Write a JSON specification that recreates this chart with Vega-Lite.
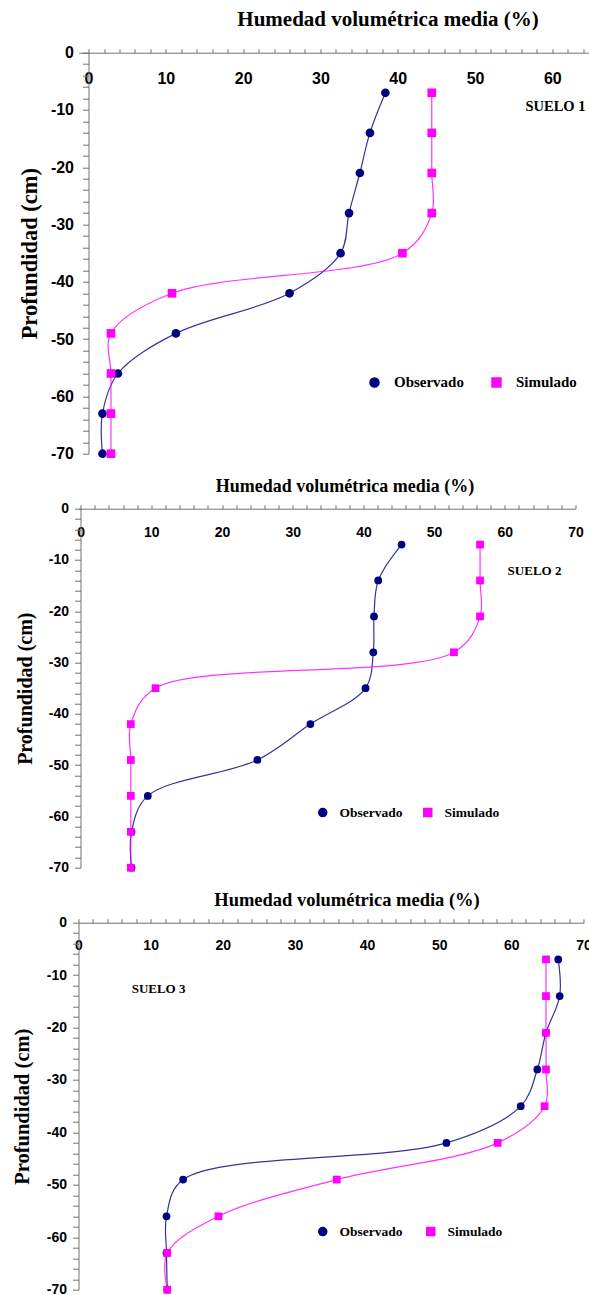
{
  "$schema": "https://vega.github.io/schema/vega-lite/v6.json",
  "background": "white",
  "padding": {"left": 12.5, "top": 8.7, "right": 0, "bottom": 0},
  "config": {
    "view": {"stroke": null},
    "axis": {"grid": false, "ticks": true, "domainColor": "#707070", "tickColor": "#707070", "tickWidth": 1, "labelColor": "black", "titleColor": "black"}
  },
  "datasets": {
    "suelo1": [
      {"serie": "Observado", "prof": -7, "humedad": 38.4},
      {"serie": "Observado", "prof": -14, "humedad": 36.4},
      {"serie": "Observado", "prof": -21, "humedad": 35.1},
      {"serie": "Observado", "prof": -28, "humedad": 33.7},
      {"serie": "Observado", "prof": -35, "humedad": 32.6},
      {"serie": "Observado", "prof": -42, "humedad": 26.0},
      {"serie": "Observado", "prof": -49, "humedad": 11.3},
      {"serie": "Observado", "prof": -56, "humedad": 3.8},
      {"serie": "Observado", "prof": -63, "humedad": 1.8},
      {"serie": "Observado", "prof": -70, "humedad": 1.8},
      {"serie": "Simulado", "prof": -7, "humedad": 44.4},
      {"serie": "Simulado", "prof": -14, "humedad": 44.4},
      {"serie": "Simulado", "prof": -21, "humedad": 44.4},
      {"serie": "Simulado", "prof": -28, "humedad": 44.4},
      {"serie": "Simulado", "prof": -35, "humedad": 40.6},
      {"serie": "Simulado", "prof": -42, "humedad": 10.8},
      {"serie": "Simulado", "prof": -49, "humedad": 2.9},
      {"serie": "Simulado", "prof": -56, "humedad": 2.9},
      {"serie": "Simulado", "prof": -63, "humedad": 2.9},
      {"serie": "Simulado", "prof": -70, "humedad": 2.9}
    ],
    "suelo2": [
      {"serie": "Observado", "prof": -7, "humedad": 45.4},
      {"serie": "Observado", "prof": -14, "humedad": 42.1},
      {"serie": "Observado", "prof": -21, "humedad": 41.5},
      {"serie": "Observado", "prof": -28, "humedad": 41.4},
      {"serie": "Observado", "prof": -35, "humedad": 40.3},
      {"serie": "Observado", "prof": -42, "humedad": 32.5},
      {"serie": "Observado", "prof": -49, "humedad": 25.0},
      {"serie": "Observado", "prof": -56, "humedad": 9.5},
      {"serie": "Observado", "prof": -63, "humedad": 7.2},
      {"serie": "Observado", "prof": -70, "humedad": 7.2},
      {"serie": "Simulado", "prof": -7, "humedad": 56.5},
      {"serie": "Simulado", "prof": -14, "humedad": 56.5},
      {"serie": "Simulado", "prof": -21, "humedad": 56.5},
      {"serie": "Simulado", "prof": -28, "humedad": 52.8},
      {"serie": "Simulado", "prof": -35, "humedad": 10.6},
      {"serie": "Simulado", "prof": -42, "humedad": 7.1},
      {"serie": "Simulado", "prof": -49, "humedad": 7.1},
      {"serie": "Simulado", "prof": -56, "humedad": 7.1},
      {"serie": "Simulado", "prof": -63, "humedad": 7.1},
      {"serie": "Simulado", "prof": -70, "humedad": 7.1}
    ],
    "suelo3": [
      {"serie": "Observado", "prof": -7, "humedad": 66.5},
      {"serie": "Observado", "prof": -14, "humedad": 66.7},
      {"serie": "Observado", "prof": -21, "humedad": 64.8},
      {"serie": "Observado", "prof": -28, "humedad": 63.6},
      {"serie": "Observado", "prof": -35, "humedad": 61.3},
      {"serie": "Observado", "prof": -42, "humedad": 51.0},
      {"serie": "Observado", "prof": -49, "humedad": 14.5},
      {"serie": "Observado", "prof": -56, "humedad": 12.2},
      {"serie": "Observado", "prof": -63, "humedad": 12.2},
      {"serie": "Observado", "prof": -70, "humedad": 12.3},
      {"serie": "Simulado", "prof": -7, "humedad": 64.8},
      {"serie": "Simulado", "prof": -14, "humedad": 64.8},
      {"serie": "Simulado", "prof": -21, "humedad": 64.8},
      {"serie": "Simulado", "prof": -28, "humedad": 64.8},
      {"serie": "Simulado", "prof": -35, "humedad": 64.6},
      {"serie": "Simulado", "prof": -42, "humedad": 58.1},
      {"serie": "Simulado", "prof": -49, "humedad": 35.8},
      {"serie": "Simulado", "prof": -56, "humedad": 19.4},
      {"serie": "Simulado", "prof": -63, "humedad": 12.3},
      {"serie": "Simulado", "prof": -70, "humedad": 12.3}
    ]
  },
  "resolve": {
    "scale": {"color": "independent", "shape": "independent"},
    "legend": {"color": "independent", "shape": "independent"}
  },
  "vconcat": [
    {
      "width": 512.5,
      "height": 401,
      "data": {"name": "suelo1"},
      "layer": [
        {
          "mark": {"type": "line", "interpolate": "catmull-rom", "strokeWidth": 1.2, "strokeOpacity": 0.8},
          "encoding": {
            "x": {"field": "humedad", "type": "quantitative", "scale": {"domain": [-1.3, 65], "nice": false, "zero": false},
              "axis": {"orient": "top", "values": [0, 2, 4, 6, 8, 10, 12, 14, 16, 18, 20, 22, 24, 26, 28, 30, 32, 34, 36, 38, 40, 42, 44, 46, 48, 50, 52, 54, 56, 58, 60, 62, 64], "labelExpr": "datum.value % 10 === 0 ? datum.label : ''", "title": "Humedad volumétrica media (%)", "titleFont": "Liberation Serif", "titleFontWeight": "bold", "titleFontSize": 21, "titleX": 309, "titleY": -27, "titleBaseline": "alphabetic", "titleAlign": "center", "labelFont": "Liberation Sans", "labelFontWeight": "bold", "labelFontSize": 16, "labelBaseline": "middle", "labelPadding": -30, "labelFlush": false, "labelOverlap": false, "tickSize": 4}},
            "y": {"field": "prof", "type": "quantitative", "scale": {"domain": [-70, 0], "nice": false},
              "axis": {"orient": "left", "offset": -10, "values": [0, -2, -4, -6, -8, -10, -12, -14, -16, -18, -20, -22, -24, -26, -28, -30, -32, -34, -36, -38, -40, -42, -44, -46, -48, -50, -52, -54, -56, -58, -60, -62, -64, -66, -68, -70], "labelExpr": "datum.value % 10 === 0 ? toString(datum.value) : ''", "title": "Profundidad (cm)", "titleFont": "Liberation Serif", "titleFontWeight": "bold", "titleFontSize": 22.5, "titleX": -59, "titleBaseline": "middle", "labelFont": "Liberation Sans", "labelFontWeight": "bold", "labelFontSize": 16, "labelPadding": 9, "labelOverlap": false, "labelFlush": false, "tickSize": 6}},
            "color": {"field": "serie", "type": "nominal", "scale": {"domain": ["Observado", "Simulado"], "range": ["#000080", "#FF00FF"]}},
            "order": {"field": "prof", "sort": "descending"}
          }
        },
        {
          "mark": {"type": "point", "filled": true, "opacity": 1, "size": 75},
          "encoding": {
            "x": {"field": "humedad", "type": "quantitative", "scale": {"domain": [-1.3, 65], "nice": false, "zero": false},
              "axis": {"orient": "top", "values": [0, 2, 4, 6, 8, 10, 12, 14, 16, 18, 20, 22, 24, 26, 28, 30, 32, 34, 36, 38, 40, 42, 44, 46, 48, 50, 52, 54, 56, 58, 60, 62, 64], "labelExpr": "datum.value % 10 === 0 ? datum.label : ''", "title": "Humedad volumétrica media (%)", "titleFont": "Liberation Serif", "titleFontWeight": "bold", "titleFontSize": 21, "titleX": 309, "titleY": -27, "titleBaseline": "alphabetic", "titleAlign": "center", "labelFont": "Liberation Sans", "labelFontWeight": "bold", "labelFontSize": 16, "labelBaseline": "middle", "labelPadding": -30, "labelFlush": false, "labelOverlap": false, "tickSize": 4}},
            "y": {"field": "prof", "type": "quantitative", "scale": {"domain": [-70, 0], "nice": false},
              "axis": {"orient": "left", "offset": -10, "values": [0, -2, -4, -6, -8, -10, -12, -14, -16, -18, -20, -22, -24, -26, -28, -30, -32, -34, -36, -38, -40, -42, -44, -46, -48, -50, -52, -54, -56, -58, -60, -62, -64, -66, -68, -70], "labelExpr": "datum.value % 10 === 0 ? toString(datum.value) : ''", "title": "Profundidad (cm)", "titleFont": "Liberation Serif", "titleFontWeight": "bold", "titleFontSize": 22.5, "titleX": -59, "titleBaseline": "middle", "labelFont": "Liberation Sans", "labelFontWeight": "bold", "labelFontSize": 16, "labelPadding": 9, "labelOverlap": false, "labelFlush": false, "tickSize": 6}},
            "color": {
              "field": "serie", "type": "nominal",
              "scale": {"domain": ["Observado", "Simulado"], "range": ["#000080", "#FF00FF"]},
              "legend": {"orient": "none", "legendX": 288.5, "legendY": 322, "direction": "horizontal", "title": null, "padding": 0, "symbolSize": 80, "labelOffset": 12, "columnPadding": 24, "labelFont": "Liberation Serif", "labelFontWeight": "bold", "labelFontSize": 15, "labelColor": "black"}
            },
            "shape": {"field": "serie", "type": "nominal", "scale": {"domain": ["Observado", "Simulado"], "range": ["circle", "square"]}, "legend": null}
          }
        },
        {
          "data": {"values": [{"suelo": "SUELO 1"}]},
          "mark": {"type": "text", "font": "Liberation Serif", "fontWeight": "bold", "fontSize": 14.5, "color": "black", "align": "center", "baseline": "middle"},
          "encoding": {
            "x": {"datum": 60.4, "type": "quantitative", "scale": {"domain": [-1.3, 65], "nice": false, "zero": false},
              "axis": {"orient": "top", "values": [0, 2, 4, 6, 8, 10, 12, 14, 16, 18, 20, 22, 24, 26, 28, 30, 32, 34, 36, 38, 40, 42, 44, 46, 48, 50, 52, 54, 56, 58, 60, 62, 64], "labelExpr": "datum.value % 10 === 0 ? datum.label : ''", "title": "Humedad volumétrica media (%)", "titleFont": "Liberation Serif", "titleFontWeight": "bold", "titleFontSize": 21, "titleX": 309, "titleY": -27, "titleBaseline": "alphabetic", "titleAlign": "center", "labelFont": "Liberation Sans", "labelFontWeight": "bold", "labelFontSize": 16, "labelBaseline": "middle", "labelPadding": -30, "labelFlush": false, "labelOverlap": false, "tickSize": 4}},
            "y": {"datum": -9.5, "type": "quantitative", "scale": {"domain": [-70, 0], "nice": false},
              "axis": {"orient": "left", "offset": -10, "values": [0, -2, -4, -6, -8, -10, -12, -14, -16, -18, -20, -22, -24, -26, -28, -30, -32, -34, -36, -38, -40, -42, -44, -46, -48, -50, -52, -54, -56, -58, -60, -62, -64, -66, -68, -70], "labelExpr": "datum.value % 10 === 0 ? toString(datum.value) : ''", "title": "Profundidad (cm)", "titleFont": "Liberation Serif", "titleFontWeight": "bold", "titleFontSize": 22.5, "titleX": -59, "titleBaseline": "middle", "labelFont": "Liberation Sans", "labelFontWeight": "bold", "labelFontSize": 16, "labelPadding": 9, "labelOverlap": false, "labelFlush": false, "tickSize": 6}},
            "text": {"field": "suelo"}
          }
        }
      ]
    },
    {
      "width": 497,
      "height": 359,
      "data": {"name": "suelo2"},
      "layer": [
        {
          "mark": {"type": "line", "interpolate": "catmull-rom", "strokeWidth": 1.2, "strokeOpacity": 0.8},
          "encoding": {
            "x": {"field": "humedad", "type": "quantitative", "scale": {"domain": [-0.3, 70], "nice": false, "zero": false},
              "axis": {"orient": "top", "values": [0, 2, 4, 6, 8, 10, 12, 14, 16, 18, 20, 22, 24, 26, 28, 30, 32, 34, 36, 38, 40, 42, 44, 46, 48, 50, 52, 54, 56, 58, 60, 62, 64, 66, 68, 70], "labelExpr": "datum.value % 10 === 0 ? datum.label : ''", "title": "Humedad volumétrica media (%)", "titleFont": "Liberation Serif", "titleFontWeight": "bold", "titleFontSize": 18, "titleX": 266, "titleY": -17, "titleBaseline": "alphabetic", "titleAlign": "center", "labelFont": "Liberation Sans", "labelFontWeight": "bold", "labelFontSize": 14, "labelBaseline": "middle", "labelPadding": -28, "labelFlush": false, "labelOverlap": false, "tickSize": 4}},
            "y": {"field": "prof", "type": "quantitative", "scale": {"domain": [-70, 0], "nice": false},
              "axis": {"orient": "left", "offset": -2, "values": [0, -2, -4, -6, -8, -10, -12, -14, -16, -18, -20, -22, -24, -26, -28, -30, -32, -34, -36, -38, -40, -42, -44, -46, -48, -50, -52, -54, -56, -58, -60, -62, -64, -66, -68, -70], "labelExpr": "datum.value % 10 === 0 ? toString(datum.value) : ''", "title": "Profundidad (cm)", "titleFont": "Liberation Serif", "titleFontWeight": "bold", "titleFontSize": 20, "titleX": -55, "titleBaseline": "middle", "labelFont": "Liberation Sans", "labelFontWeight": "bold", "labelFontSize": 14, "labelPadding": 6, "labelOverlap": false, "labelFlush": false, "tickSize": 6}},
            "color": {"field": "serie", "type": "nominal", "scale": {"domain": ["Observado", "Simulado"], "range": ["#000080", "#FF00FF"]}},
            "order": {"field": "prof", "sort": "descending"}
          }
        },
        {
          "mark": {"type": "point", "filled": true, "opacity": 1, "size": 60},
          "encoding": {
            "x": {"field": "humedad", "type": "quantitative", "scale": {"domain": [-0.3, 70], "nice": false, "zero": false},
              "axis": {"orient": "top", "values": [0, 2, 4, 6, 8, 10, 12, 14, 16, 18, 20, 22, 24, 26, 28, 30, 32, 34, 36, 38, 40, 42, 44, 46, 48, 50, 52, 54, 56, 58, 60, 62, 64, 66, 68, 70], "labelExpr": "datum.value % 10 === 0 ? datum.label : ''", "title": "Humedad volumétrica media (%)", "titleFont": "Liberation Serif", "titleFontWeight": "bold", "titleFontSize": 18, "titleX": 266, "titleY": -17, "titleBaseline": "alphabetic", "titleAlign": "center", "labelFont": "Liberation Sans", "labelFontWeight": "bold", "labelFontSize": 14, "labelBaseline": "middle", "labelPadding": -28, "labelFlush": false, "labelOverlap": false, "tickSize": 4}},
            "y": {"field": "prof", "type": "quantitative", "scale": {"domain": [-70, 0], "nice": false},
              "axis": {"orient": "left", "offset": -2, "values": [0, -2, -4, -6, -8, -10, -12, -14, -16, -18, -20, -22, -24, -26, -28, -30, -32, -34, -36, -38, -40, -42, -44, -46, -48, -50, -52, -54, -56, -58, -60, -62, -64, -66, -68, -70], "labelExpr": "datum.value % 10 === 0 ? toString(datum.value) : ''", "title": "Profundidad (cm)", "titleFont": "Liberation Serif", "titleFontWeight": "bold", "titleFontSize": 20, "titleX": -55, "titleBaseline": "middle", "labelFont": "Liberation Sans", "labelFontWeight": "bold", "labelFontSize": 14, "labelPadding": 6, "labelOverlap": false, "labelFlush": false, "tickSize": 6}},
            "color": {
              "field": "serie", "type": "nominal",
              "scale": {"domain": ["Observado", "Simulado"], "range": ["#000080", "#FF00FF"]},
              "legend": {"orient": "none", "legendX": 237.5, "legendY": 297, "direction": "horizontal", "title": null, "padding": 0, "symbolSize": 64, "labelOffset": 10, "columnPadding": 17, "labelFont": "Liberation Serif", "labelFontWeight": "bold", "labelFontSize": 13.5, "labelColor": "black"}
            },
            "shape": {"field": "serie", "type": "nominal", "scale": {"domain": ["Observado", "Simulado"], "range": ["circle", "square"]}, "legend": null}
          }
        },
        {
          "data": {"values": [{"suelo": "SUELO 2"}]},
          "mark": {"type": "text", "font": "Liberation Serif", "fontWeight": "bold", "fontSize": 13, "color": "black", "align": "center", "baseline": "middle"},
          "encoding": {
            "x": {"datum": 64.2, "type": "quantitative", "scale": {"domain": [-0.3, 70], "nice": false, "zero": false},
              "axis": {"orient": "top", "values": [0, 2, 4, 6, 8, 10, 12, 14, 16, 18, 20, 22, 24, 26, 28, 30, 32, 34, 36, 38, 40, 42, 44, 46, 48, 50, 52, 54, 56, 58, 60, 62, 64, 66, 68, 70], "labelExpr": "datum.value % 10 === 0 ? datum.label : ''", "title": "Humedad volumétrica media (%)", "titleFont": "Liberation Serif", "titleFontWeight": "bold", "titleFontSize": 18, "titleX": 266, "titleY": -17, "titleBaseline": "alphabetic", "titleAlign": "center", "labelFont": "Liberation Sans", "labelFontWeight": "bold", "labelFontSize": 14, "labelBaseline": "middle", "labelPadding": -28, "labelFlush": false, "labelOverlap": false, "tickSize": 4}},
            "y": {"datum": -12.2, "type": "quantitative", "scale": {"domain": [-70, 0], "nice": false},
              "axis": {"orient": "left", "offset": -2, "values": [0, -2, -4, -6, -8, -10, -12, -14, -16, -18, -20, -22, -24, -26, -28, -30, -32, -34, -36, -38, -40, -42, -44, -46, -48, -50, -52, -54, -56, -58, -60, -62, -64, -66, -68, -70], "labelExpr": "datum.value % 10 === 0 ? toString(datum.value) : ''", "title": "Profundidad (cm)", "titleFont": "Liberation Serif", "titleFontWeight": "bold", "titleFontSize": 20, "titleX": -55, "titleBaseline": "middle", "labelFont": "Liberation Sans", "labelFontWeight": "bold", "labelFontSize": 14, "labelPadding": 6, "labelOverlap": false, "labelFlush": false, "tickSize": 6}},
            "text": {"field": "suelo"}
          }
        }
      ]
    },
    {
      "width": 505,
      "height": 367,
      "data": {"name": "suelo3"},
      "layer": [
        {
          "mark": {"type": "line", "interpolate": "catmull-rom", "strokeWidth": 1.2, "strokeOpacity": 0.8},
          "encoding": {
            "x": {"field": "humedad", "type": "quantitative", "scale": {"domain": [0, 70], "nice": false, "zero": false},
              "axis": {"orient": "top", "values": [0, 2, 4, 6, 8, 10, 12, 14, 16, 18, 20, 22, 24, 26, 28, 30, 32, 34, 36, 38, 40, 42, 44, 46, 48, 50, 52, 54, 56, 58, 60, 62, 64, 66, 68, 70], "labelExpr": "datum.value % 10 === 0 ? datum.label : ''", "title": "Humedad volumétrica media (%)", "titleFont": "Liberation Serif", "titleFontWeight": "bold", "titleFontSize": 18.5, "titleX": 268, "titleY": -17, "titleBaseline": "alphabetic", "titleAlign": "center", "labelFont": "Liberation Sans", "labelFontWeight": "bold", "labelFontSize": 14, "labelBaseline": "middle", "labelPadding": -27, "labelFlush": false, "labelOverlap": false, "tickSize": 4}},
            "y": {"field": "prof", "type": "quantitative", "scale": {"domain": [-70, 0], "nice": false},
              "axis": {"orient": "left", "values": [0, -2, -4, -6, -8, -10, -12, -14, -16, -18, -20, -22, -24, -26, -28, -30, -32, -34, -36, -38, -40, -42, -44, -46, -48, -50, -52, -54, -56, -58, -60, -62, -64, -66, -68, -70], "labelExpr": "datum.value % 10 === 0 ? toString(datum.value) : ''", "title": "Profundidad (cm)", "titleFont": "Liberation Serif", "titleFontWeight": "bold", "titleFontSize": 20.5, "titleX": -56, "titleBaseline": "middle", "labelFont": "Liberation Sans", "labelFontWeight": "bold", "labelFontSize": 14, "labelPadding": 6, "labelOverlap": false, "labelFlush": false, "tickSize": 6}},
            "color": {"field": "serie", "type": "nominal", "scale": {"domain": ["Observado", "Simulado"], "range": ["#000080", "#FF00FF"]}},
            "order": {"field": "prof", "sort": "descending"}
          }
        },
        {
          "mark": {"type": "point", "filled": true, "opacity": 1, "size": 60},
          "encoding": {
            "x": {"field": "humedad", "type": "quantitative", "scale": {"domain": [0, 70], "nice": false, "zero": false},
              "axis": {"orient": "top", "values": [0, 2, 4, 6, 8, 10, 12, 14, 16, 18, 20, 22, 24, 26, 28, 30, 32, 34, 36, 38, 40, 42, 44, 46, 48, 50, 52, 54, 56, 58, 60, 62, 64, 66, 68, 70], "labelExpr": "datum.value % 10 === 0 ? datum.label : ''", "title": "Humedad volumétrica media (%)", "titleFont": "Liberation Serif", "titleFontWeight": "bold", "titleFontSize": 18.5, "titleX": 268, "titleY": -17, "titleBaseline": "alphabetic", "titleAlign": "center", "labelFont": "Liberation Sans", "labelFontWeight": "bold", "labelFontSize": 14, "labelBaseline": "middle", "labelPadding": -27, "labelFlush": false, "labelOverlap": false, "tickSize": 4}},
            "y": {"field": "prof", "type": "quantitative", "scale": {"domain": [-70, 0], "nice": false},
              "axis": {"orient": "left", "values": [0, -2, -4, -6, -8, -10, -12, -14, -16, -18, -20, -22, -24, -26, -28, -30, -32, -34, -36, -38, -40, -42, -44, -46, -48, -50, -52, -54, -56, -58, -60, -62, -64, -66, -68, -70], "labelExpr": "datum.value % 10 === 0 ? toString(datum.value) : ''", "title": "Profundidad (cm)", "titleFont": "Liberation Serif", "titleFontWeight": "bold", "titleFontSize": 20.5, "titleX": -56, "titleBaseline": "middle", "labelFont": "Liberation Sans", "labelFontWeight": "bold", "labelFontSize": 14, "labelPadding": 6, "labelOverlap": false, "labelFlush": false, "tickSize": 6}},
            "color": {
              "field": "serie", "type": "nominal",
              "scale": {"domain": ["Observado", "Simulado"], "range": ["#000080", "#FF00FF"]},
              "legend": {"orient": "none", "legendX": 237.5, "legendY": 302, "direction": "horizontal", "title": null, "padding": 0, "symbolSize": 64, "labelOffset": 10, "columnPadding": 20, "labelFont": "Liberation Serif", "labelFontWeight": "bold", "labelFontSize": 13.5, "labelColor": "black"}
            },
            "shape": {"field": "serie", "type": "nominal", "scale": {"domain": ["Observado", "Simulado"], "range": ["circle", "square"]}, "legend": null}
          }
        },
        {
          "data": {"values": [{"suelo": "SUELO 3"}]},
          "mark": {"type": "text", "font": "Liberation Serif", "fontWeight": "bold", "fontSize": 13, "color": "black", "align": "center", "baseline": "middle"},
          "encoding": {
            "x": {"datum": 11.1, "type": "quantitative", "scale": {"domain": [0, 70], "nice": false, "zero": false},
              "axis": {"orient": "top", "values": [0, 2, 4, 6, 8, 10, 12, 14, 16, 18, 20, 22, 24, 26, 28, 30, 32, 34, 36, 38, 40, 42, 44, 46, 48, 50, 52, 54, 56, 58, 60, 62, 64, 66, 68, 70], "labelExpr": "datum.value % 10 === 0 ? datum.label : ''", "title": "Humedad volumétrica media (%)", "titleFont": "Liberation Serif", "titleFontWeight": "bold", "titleFontSize": 18.5, "titleX": 268, "titleY": -17, "titleBaseline": "alphabetic", "titleAlign": "center", "labelFont": "Liberation Sans", "labelFontWeight": "bold", "labelFontSize": 14, "labelBaseline": "middle", "labelPadding": -27, "labelFlush": false, "labelOverlap": false, "tickSize": 4}},
            "y": {"datum": -12.6, "type": "quantitative", "scale": {"domain": [-70, 0], "nice": false},
              "axis": {"orient": "left", "values": [0, -2, -4, -6, -8, -10, -12, -14, -16, -18, -20, -22, -24, -26, -28, -30, -32, -34, -36, -38, -40, -42, -44, -46, -48, -50, -52, -54, -56, -58, -60, -62, -64, -66, -68, -70], "labelExpr": "datum.value % 10 === 0 ? toString(datum.value) : ''", "title": "Profundidad (cm)", "titleFont": "Liberation Serif", "titleFontWeight": "bold", "titleFontSize": 20.5, "titleX": -56, "titleBaseline": "middle", "labelFont": "Liberation Sans", "labelFontWeight": "bold", "labelFontSize": 14, "labelPadding": 6, "labelOverlap": false, "labelFlush": false, "tickSize": 6}},
            "text": {"field": "suelo"}
          }
        }
      ]
    }
  ],
  "spacing": 55,
  "bounds": "flush"
}
